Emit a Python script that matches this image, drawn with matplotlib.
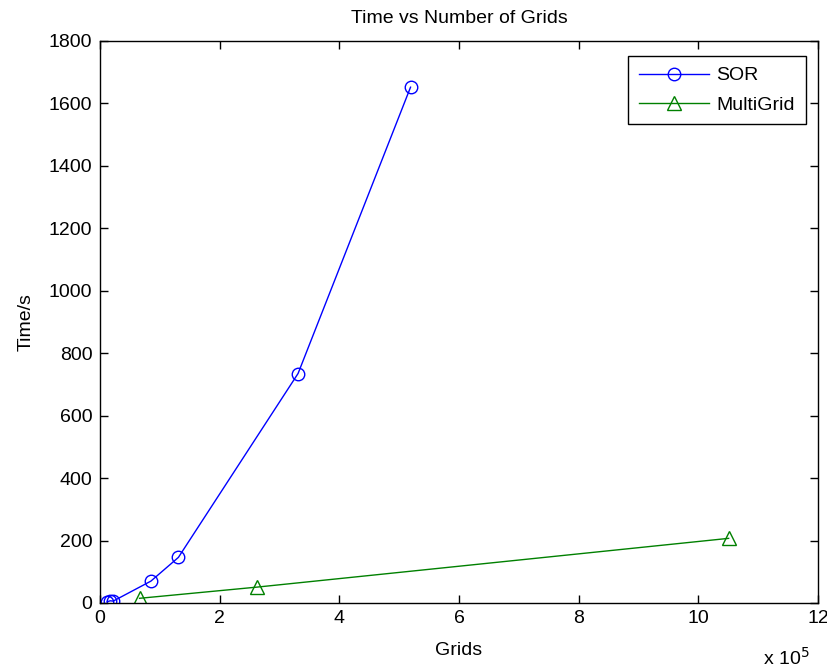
import matplotlib.pyplot as plt
from matplotlib import ticker

# Data
sor_grids = [1.2e4, 1.7e4, 2.2e4, 8.5e4, 1.31e5, 3.31e5, 5.19e5]
sor_time = [4, 7, 6, 70, 146, 735, 1652]
mg_grids = [66049, 263169, 1050625]
mg_time = [15, 51, 207]

plt.rcParams['font.family'] = ['Liberation Sans', 'DejaVu Sans']

fig = plt.figure(figsize=(8.28, 6.72), dpi=100)
ax = fig.add_axes([0.1208, 0.1027, 0.8671, 0.8363])

ax.plot(sor_grids, sor_time, color='#0000ff', lw=1, marker='o', ms=9,
        mfc='none', mew=1, label='SOR')
ax.plot(mg_grids, mg_time, color='#008000', lw=1, marker='^', ms=9.5,
        mfc='none', mew=1, label='MultiGrid')

ax.set_xlim(0, 12e5)
ax.set_ylim(0, 1800)
ax.xaxis.set_major_locator(ticker.MultipleLocator(2e5))
ax.yaxis.set_major_locator(ticker.MultipleLocator(200))
ax.xaxis.set_major_formatter(ticker.FuncFormatter(lambda v, p: '%g' % (v / 1e5)))
ax.tick_params(direction='in', top=True, right=True, length=6, width=1,
               labelsize=14, colors='#000000')
ax.tick_params(axis='y', pad=5.5)
ax.tick_params(axis='x', pad=5)
for s in ax.spines.values():
    s.set_linewidth(1)

ax.set_title('Time vs Number of Grids', fontsize=14, pad=13)
ax.set_xlabel('Grids', fontsize=14, labelpad=11)
ax.set_ylabel('Time/s', fontsize=14, labelpad=10)
fig.text(0.922, 0.005, r'x 10$^5$', fontsize=14, ha='left', va='bottom')

leg = ax.legend(loc='upper right', bbox_to_anchor=(0.983, 0.973), fontsize=14,
                fancybox=False, edgecolor='black', framealpha=1,
                handlelength=3.6, handletextpad=0.4, borderaxespad=0,
                labelspacing=0.6, borderpad=0.55)
leg.get_frame().set_linewidth(1)

fig.savefig('out.png', dpi=100)
